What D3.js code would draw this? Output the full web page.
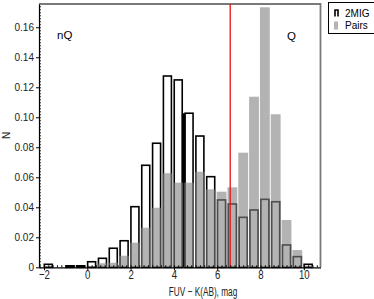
<!DOCTYPE html>
<html>
<head>
<meta charset="utf-8">
<script src="https://cdn.jsdelivr.net/npm/d3@7/dist/d3.min.js"></script>
<style>
  body { margin: 0; background: #fff; }
  svg { display: block; font-family: "Liberation Sans", Arial, sans-serif; }
</style>
</head>
<body>
<div id="chart"></div>
<script>
// bin centres (mag), bins are 0.5 mag wide
var binCenters = [-1.8, -1.3, -0.8, -0.3, 0.2, 0.7, 1.2, 1.7, 2.2, 2.7, 3.2, 3.7, 4.2,
                  4.7, 5.2, 5.7, 6.2, 6.7, 7.2, 7.7, 8.2, 8.7, 9.2, 9.7, 10.2];
// 2MIG (open bars)
var migValues = [0.002, 0, 0.001, 0.001, 0.0037, 0.006, 0.0127, 0.0177, 0.0404, 0.068, 0.0827,
                 0.1275, 0.1249, 0.1027, 0.0875, 0.0604, 0.0449, 0.0422, 0.0333, 0.0382,
                 0.0453, 0.0437, 0.0149, 0.0071, 0.002];
// Pairs (grey bars)
var pairValues = [0, 0, 0, 0, 0, 0.0027, 0.003, 0.0077, 0.0164, 0.0264, 0.0397, 0.0627, 0.0564,
                  0.0564, 0.0637, 0.052, 0.0504, 0.0533, 0.0764, 0.1137, 0.1733, 0.102,
                  0.0315, 0.0115, 0.001];
var xTicks = [-2, 0, 2, 4, 6, 8, 10];
var yTicks = [0, 0.02, 0.04, 0.06, 0.08, 0.10, 0.12, 0.14, 0.16];
var divider = 6.6;

var width = 374, height = 299;
var margin = { top: 4, right: 53.5, bottom: 31.7, left: 39 };

var svg = d3.select("#chart").append("svg")
    .attr("width", width)
    .attr("height", height);

var x = d3.scaleLinear()
    .domain([-2.23, 10.77])
    .range([margin.left, width - margin.right]);
var y = d3.scaleLinear()
    .domain([0, 0.1755])
    .range([height - margin.bottom, margin.top]);

var binW = 0.5;
var pxBin = x(binW) - x(0);

// 2MIG open bars
svg.append("g").selectAll("rect")
    .data(binCenters.map(function(c, i){ return { c: c, v: migValues[i] }; })
          .filter(function(d){ return d.v > 0; }))
    .enter().append("rect")
    .attr("x", function(d){ return x(d.c) - 4; })
    .attr("y", function(d){ return y(d.v); })
    .attr("width", 8)
    .attr("height", function(d){ return y(0) - y(d.v); })
    .attr("fill", "none")
    .attr("stroke", "#000")
    .attr("stroke-width", 1.6);

// the doubled edge between the 4.2 and 4.7 bins
svg.append("rect")
    .attr("x", x(binCenters[12] + binW / 2) - 1.8)
    .attr("y", y(migValues[13]))
    .attr("width", 3.3)
    .attr("height", y(0) - y(migValues[13]))
    .attr("fill", "#000");

// Pairs grey bars
svg.append("g").selectAll("rect")
    .data(binCenters.map(function(c, i){ return { c: c, v: pairValues[i] }; })
          .filter(function(d){ return d.v > 0; }))
    .enter().append("rect")
    .attr("x", function(d){ return x(d.c) - (pxBin - 1) / 2; })
    .attr("y", function(d){ return y(d.v); })
    .attr("width", pxBin - 1)
    .attr("height", function(d){ return y(0) - y(d.v); })
    .attr("fill", "#808080")
    .attr("fill-opacity", 0.6);

// top and right frame
svg.append("path")
    .attr("d", "M" + x.range()[0] + "," + y.range()[1] + "H" + x.range()[1] + "V" + y.range()[0])
    .attr("fill", "none")
    .attr("stroke", "#7a7a7a")
    .attr("stroke-width", 1.8);

// dividing line
svg.append("line")
    .attr("x1", x(divider)).attr("x2", x(divider))
    .attr("y1", y.range()[1]).attr("y2", y.range()[0])
    .attr("stroke", "#ee1111")
    .attr("stroke-width", 1.3);

// axes
var xMinor = d3.range(-2.2, 10.8, 0.2);
svg.append("g")
    .attr("transform", "translate(0," + y(0) + ")")
    .call(d3.axisBottom(x).tickValues(xMinor).tickSize(-2).tickFormat(""))
    .call(function(g){ g.select(".domain").remove(); });
var xAxis = svg.append("g")
    .attr("transform", "translate(0," + y(0) + ")")
    .call(d3.axisBottom(x).tickValues(xTicks).tickSizeInner(3).tickSizeOuter(0));
xAxis.selectAll("text")
    .attr("y", 12).attr("dy", null)
    .attr("font-size", 13)
    .attr("transform", "scale(0.74,1)")
    .attr("fill", "#222");

var yMinor = d3.range(0, 0.1751, 0.002);
svg.append("g")
    .attr("transform", "translate(" + x.range()[0] + ",0)")
    .call(d3.axisLeft(y).tickValues(yMinor).tickSize(-1.8).tickFormat(""))
    .call(function(g){ g.select(".domain").remove(); });
var yAxis = svg.append("g")
    .attr("transform", "translate(" + x.range()[0] + ",0)")
    .call(d3.axisLeft(y).tickValues(yTicks).tickSizeInner(3).tickSizeOuter(0)
          .tickFormat(function(d){ return d === 0 ? "0" : d3.format(".2f")(d); }));
yAxis.selectAll("text")
    .attr("x", -5)
    .attr("font-size", 10)
    .attr("fill", "#222");
svg.selectAll(".domain").attr("stroke-width", 1.2);

// axis titles
svg.append("g")
    .attr("transform", "translate(203,296)")
    .append("text")
    .attr("text-anchor", "middle")
    .attr("font-size", 12.5)
    .attr("transform", "scale(0.66,1)")
    .attr("fill", "#222")
    .text("FUV \u2212 K(AB), mag");
svg.append("text")
    .attr("transform", "translate(10,135.5) rotate(-90)")
    .attr("text-anchor", "middle")
    .attr("font-size", 10)
    .attr("fill", "#222")
    .text("N");

// region labels
svg.append("text").attr("x", 57).attr("y", 38.5).attr("font-size", 11.5).text("nQ");
svg.append("text").attr("x", 287).attr("y", 40).attr("font-size", 11.5).text("Q");

// legend
var legend = svg.append("g").attr("transform", "translate(328.5,2.5)");
legend.append("rect")
    .attr("width", 60).attr("height", 31)
    .attr("fill", "#fff").attr("stroke", "#000").attr("stroke-width", 1);
legend.append("path")
    .attr("d", "M6.5,14V7.5H9.5V14")
    .attr("fill", "none").attr("stroke", "#000").attr("stroke-width", 1.6);
legend.append("rect")
    .attr("x", 5.5).attr("y", 19).attr("width", 4).attr("height", 8)
    .attr("fill", "#808080").attr("fill-opacity", 0.6);
legend.append("text").attr("x", 16.5).attr("y", 14.5).attr("font-size", 10).text("2MIG");
legend.append("text").attr("x", 16.5).attr("y", 26.5).attr("font-size", 10).text("Pairs");
</script>
</body>
</html>
